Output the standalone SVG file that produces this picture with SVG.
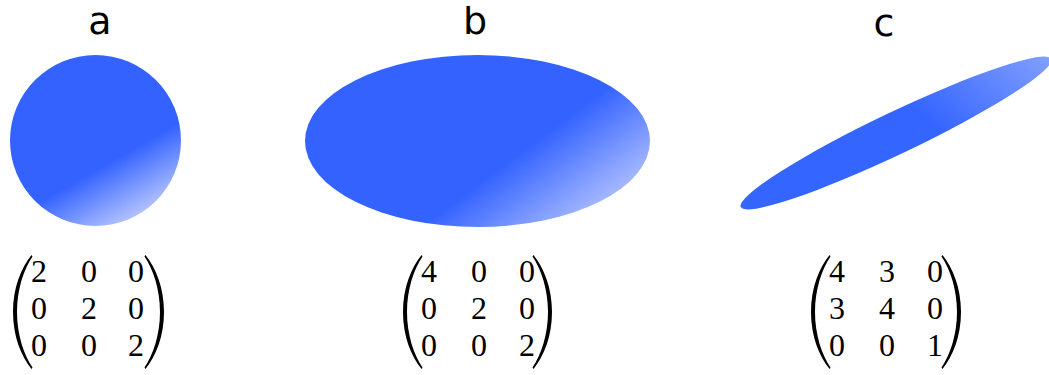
<svg xmlns="http://www.w3.org/2000/svg" width="1049" height="375" viewBox="0 0 1049 375">
<style>
.title{font-family:"DejaVu Sans",sans-serif;font-size:38px;fill:#000;text-anchor:middle}
.num{font-family:"Liberation Serif",serif;font-size:32px;fill:#000;text-anchor:middle}
.paren{fill:#000}
</style>
<defs>
<path id="lp" d="M18.5,0 C8,13 0,33 0,57 C0,81 8,101 18.5,114 L19.5,112.5 C11,100 4,80 4,57 C4,34 11,14 19.5,1.5 Z"/>
<linearGradient id="ga" gradientUnits="userSpaceOnUse" x1="108" y1="163" x2="137.5" y2="215">
<stop offset="0" stop-color="#3362ff"/>
<stop offset="1" stop-color="#b2c2ff"/>
</linearGradient>
<linearGradient id="gb" gradientUnits="userSpaceOnUse" x1="498" y1="169" x2="550" y2="239">
<stop offset="0" stop-color="#3362ff"/>
<stop offset="1" stop-color="#a2b6ff"/>
</linearGradient>
<linearGradient id="gc" gradientUnits="userSpaceOnUse" x1="925" y1="120" x2="1055" y2="70">
<stop offset="0" stop-color="#3565ff"/>
<stop offset="1" stop-color="#88a4ff"/>
</linearGradient>
</defs>
<g id="node-a">
<text class="title" x="100" y="34">a</text>
<circle cx="95.5" cy="140.5" r="85.5" fill="url(#ga)"/>
<use href="#lp" class="paren" transform="translate(13,255)"/>
<use href="#lp" class="paren" transform="translate(164,255) scale(-1,1)"/>
<text class="num" x="39" y="282">2</text><text class="num" x="89" y="282">0</text><text class="num" x="136" y="282">0</text>
<text class="num" x="39" y="319">0</text><text class="num" x="89" y="319">2</text><text class="num" x="136" y="319">0</text>
<text class="num" x="39" y="356">0</text><text class="num" x="89" y="356">0</text><text class="num" x="136" y="356">2</text>
</g>
<g id="node-b">
<text class="title" x="475" y="34">b</text>
<ellipse cx="477.5" cy="141" rx="172.5" ry="86" fill="url(#gb)"/>
<use href="#lp" class="paren" transform="translate(403,255)"/>
<use href="#lp" class="paren" transform="translate(552,255) scale(-1,1)"/>
<text class="num" x="429" y="282">4</text><text class="num" x="479" y="282">0</text><text class="num" x="527" y="282">0</text>
<text class="num" x="429" y="319">0</text><text class="num" x="479" y="319">2</text><text class="num" x="527" y="319">0</text>
<text class="num" x="429" y="356">0</text><text class="num" x="479" y="356">0</text><text class="num" x="527" y="356">2</text>
</g>
<g id="node-c">
<text class="title" x="884" y="36">c</text>
<ellipse cx="896" cy="133" rx="172" ry="21" transform="rotate(-25.5 896 133)" fill="url(#gc)"/>
<use href="#lp" class="paren" transform="translate(811,255)"/>
<use href="#lp" class="paren" transform="translate(961,255) scale(-1,1)"/>
<text class="num" x="837" y="282">4</text><text class="num" x="887" y="282">3</text><text class="num" x="935" y="282">0</text>
<text class="num" x="837" y="319">3</text><text class="num" x="887" y="319">4</text><text class="num" x="935" y="319">0</text>
<text class="num" x="837" y="356">0</text><text class="num" x="887" y="356">0</text><text class="num" x="935" y="356">1</text>
</g>
<g id="connectors"/>
</svg>
